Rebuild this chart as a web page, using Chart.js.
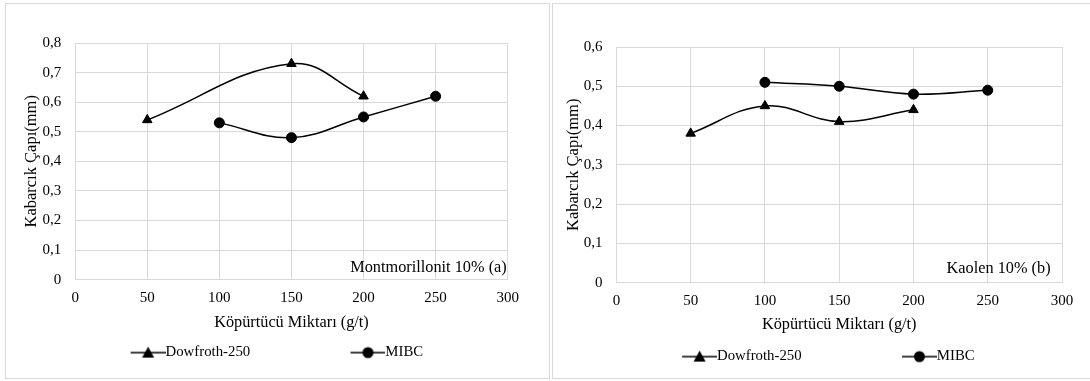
<!DOCTYPE html>
<html>
<head>
<meta charset="utf-8">
<script src="https://cdn.jsdelivr.net/npm/chart.js@4"></script>
<style>
  body { margin: 0; background: #fff; width: 1090px; height: 381px; overflow: hidden; position: relative; }
  .panel { position: absolute; top: 3px; height: 376px; border: 1px solid #d9d9d9; box-sizing: border-box; }
  #p1 { left: 5px; width: 545px; }
  #p2 { left: 552px; width: 545px; }
</style>
</head>
<body>
<div class="panel" id="p1"><canvas id="c1"></canvas></div>
<div class="panel" id="p2"><canvas id="c2"></canvas></div>
<script>
// dozaj (g/t)
var xMontDow = [50, 150, 200];
var yMontDow = [0.54, 0.73, 0.62];
var xMontMibc = [100, 150, 200, 250];
var yMontMibc = [0.53, 0.48, 0.55, 0.62];

var xKaoDow = [50, 100, 150, 200];
var yKaoDow = [0.38, 0.45, 0.41, 0.44];
var xKaoMibc = [100, 150, 200, 250];
var yKaoMibc = [0.51, 0.50, 0.48, 0.49];

var seriesNames = ["Dowfroth-250", "MIBC"];
var xTitle = "Köpürtücü Miktarı (g/t)";
var yTitle = "Kabarcık Çapı(mm)";

var FONT = "'Liberation Serif', 'Times New Roman', serif";

function pts(xs, ys) {
    var out = [];
    for (var i = 0; i < xs.length; i++) out.push({x: xs[i], y: ys[i]});
    return out;
}

function nbsp(n) {
    var s = "";
    for (var i = 0; i < n; i++) s += "\u00a0";
    return s;
}

// legend sembolü: çizgi + işaret, çizgi yazıya kadar uzanır
function legendIcon(style) {
    var c = document.createElement("canvas");
    c.width = 43; c.height = 14;
    var g = c.getContext("2d");
    g.strokeStyle = "#000"; g.lineWidth = 1.5;
    g.beginPath(); g.moveTo(8, 7); g.lineTo(43, 7); g.stroke();
    g.fillStyle = "#000";
    g.beginPath();
    if (style == "triangle") {
        g.moveTo(25.5, 1); g.lineTo(31.5, 12); g.lineTo(19.5, 12); g.closePath();
    } else {
        g.arc(25.5, 7, 5.5, 0, Math.PI * 2);
    }
    g.fill();
    return c;
}
var icons = [legendIcon("triangle"), legendIcon("circle")];

var labelPlugin = {
    id: "cornerLabel",
    afterDraw: function(chart) {
        var o = chart.options.plugins.cornerLabel;
        var a = chart.chartArea, ctx = chart.ctx;
        ctx.save();
        ctx.font = "16.3px " + FONT;
        ctx.fillStyle = "#000";
        ctx.textAlign = "right";
        ctx.textBaseline = "middle";
        ctx.fillText(o.text, a.right - o.dx, a.bottom - o.dy);
        ctx.restore();
    }
};

function makeChart(id, dow, mibc, yMax, cfg) {
    new Chart(document.getElementById(id), {
        type: "line",
        data: {
            datasets: [
                {
                    label: seriesNames[0], data: dow,
                    borderColor: "#000", backgroundColor: "#000", borderWidth: 1.5,
                    pointStyle: "triangle", pointRadius: 5.5, pointBorderWidth: 1, tension: 0.4
                },
                {
                    label: seriesNames[1], data: mibc,
                    borderColor: "#000", backgroundColor: "#000", borderWidth: 1.5,
                    pointStyle: "circle", pointRadius: 5, pointBorderWidth: 1, tension: 0.4
                }
            ]
        },
        options: {
            responsive: true,
            maintainAspectRatio: false,
            animation: false,
            layout: {padding: cfg.pad},
            scales: {
                x: {
                    type: "linear", min: 0, max: 300,
                    ticks: {stepSize: 50, color: "#000", font: {family: FONT, size: 15}, padding: 9},
                    grid: {color: "#d9d9d9", drawTicks: false},
                    border: {color: "#d9d9d9"},
                    title: {display: true, text: xTitle, color: "#000", font: {family: FONT, size: 16.3},
                            padding: cfg.xTitlePad}
                },
                y: {
                    min: 0, max: yMax,
                    afterFit: function(scale) { scale.width = cfg.yWidth; },
                    ticks: {
                        stepSize: 0.1, color: "#000", font: {family: FONT, size: 15}, padding: cfg.yTickPad,
                        callback: function(v) { return v == 0 ? "0" : v.toFixed(1).replace(".", ","); }
                    },
                    grid: {color: "#d9d9d9", drawTicks: false},
                    border: {color: "#d9d9d9"},
                    title: {display: true, text: yTitle, color: "#000", font: {family: FONT, size: 16.5}, padding: 0}
                }
            },
            plugins: {
                legend: {
                    position: "bottom",
                    fullSize: false,
                    labels: {
                        usePointStyle: true, pointStyleWidth: 28, padding: 11,
                        color: "#000", font: {family: FONT, size: 14.8},
                        generateLabels: function(chart) {
                            return chart.data.datasets.map(function(ds, i) {
                                var t = i == 0 ? ds.label + nbsp(24) : ds.label + nbsp(cfg.tailSpaces);
                                return {text: t, pointStyle: icons[i],
                                        fillStyle: "#000", strokeStyle: "#000", lineWidth: 0,
                                        datasetIndex: i, fontColor: "#000"};
                            });
                        }
                    }
                },
                tooltip: {enabled: false},
                cornerLabel: {text: cfg.label, dx: cfg.dx, dy: cfg.dy}
            }
        },
        plugins: [labelPlugin]
    });
}

makeChart("c1", pts(xMontDow, yMontDow), pts(xMontMibc, yMontMibc), 0.8, {
    label: "Montmorillonit 10% (a)", dx: 1, dy: 12,
    pad: {top: 39, left: 15.4, right: 41.3, bottom: 8},
    yWidth: 53.8, yTickPad: 14, xTitlePad: {top: -3, bottom: 2}, tailSpaces: 8
});
makeChart("c2", pts(xKaoDow, yKaoDow), pts(xKaoMibc, yKaoMibc), 0.6, {
    label: "Kaolen 10% (b)", dx: 11.4, dy: 14,
    pad: {top: 43, left: 11, right: 34, bottom: 4},
    yWidth: 52.4, yTickPad: 14, xTitlePad: {top: -4, bottom: 4}, tailSpaces: 6
});
</script>
</body>
</html>
